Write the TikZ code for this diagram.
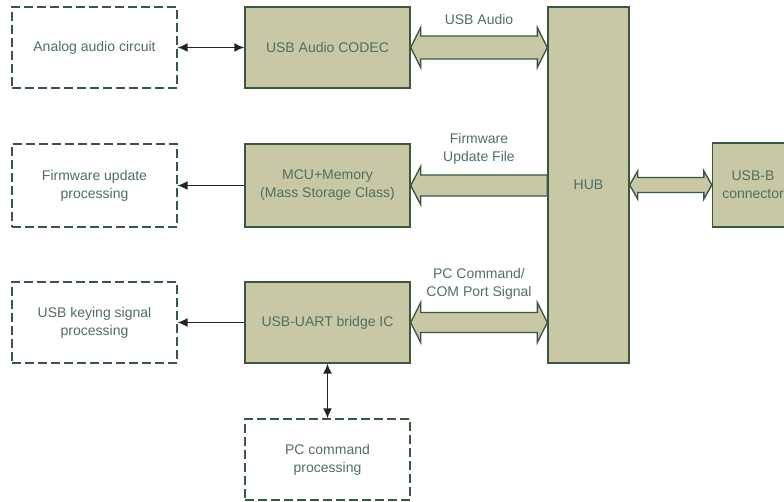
\documentclass[tikz,border=0pt]{standalone}
\usepackage{fontspec}
\setmainfont{Liberation Sans}
\usetikzlibrary{arrows.meta,calc}

\definecolor{blockFill}{RGB}{200,200,166}
\definecolor{blockLine}{RGB}{58,88,62}
\definecolor{labelText}{RGB}{82,110,98}
\definecolor{wireLine}{RGB}{35,35,35}

\tikzset{
  block/.style={draw=blockLine, line width=1.4pt, fill=blockFill, minimum width=165pt,
    minimum height=81pt, align=center, text=labelText, inner sep=0pt},
  extbox/.style={draw=blockLine, line width=1.3pt, dash pattern=on 9pt off 4pt, fill=white,
    minimum width=165pt, minimum height=81pt, align=center, text=labelText, inner sep=0pt},
  fatarrow/.style={draw=blockLine, line width=1.4pt, fill=blockFill, line join=miter},
  wire/.style={draw=wireLine, line width=1.5pt},
  buslabel/.style={text=labelText, align=center, inner sep=0pt},
}

% wide outlined arrows: #1 left end, #2 right end, shaft half width, head half width, head length
\newcommand{\fatboth}[5]{%
  \draw[fatarrow] let \p1=(#1), \p2=(#2) in
    (\x1,\y1) -- (\x1+#5pt,\y1+#4pt) -- (\x1+#5pt,\y1+#3pt) -- (\x2-#5pt,\y1+#3pt)
    -- (\x2-#5pt,\y1+#4pt) -- (\x2,\y1) -- (\x2-#5pt,\y1-#4pt) -- (\x2-#5pt,\y1-#3pt)
    -- (\x1+#5pt,\y1-#3pt) -- (\x1+#5pt,\y1-#4pt) -- cycle;}
\newcommand{\fatleft}[5]{%
  \draw[fatarrow] let \p1=(#1), \p2=(#2) in
    (\x1,\y1) -- (\x1+#5pt,\y1+#4pt) -- (\x1+#5pt,\y1+#3pt) -- (\x2,\y1+#3pt)
    -- (\x2,\y1-#3pt) -- (\x1+#5pt,\y1-#3pt) -- (\x1+#5pt,\y1-#4pt) -- cycle;}

\begin{document}
\begin{tikzpicture}[x=1pt, y=-1pt, >={Latex[length=10pt,width=9pt]},
  font=\fontsize{14}{18}\selectfont]
\useasboundingbox (0,0) rectangle (784,502);
\clip (0,0) rectangle (784,502);

% outside functions
\node[extbox] (analog) at (94.5,47.5) {Analog audio circuit};
\node[extbox, minimum height=83pt] (fwproc) at (94.5,185.5) {Firmware update\\processing};
\node[extbox] (keying) at (94.5,322.5) {USB keying signal\\processing};
\node[extbox] (pccmd) at (327.5,459.5) {PC command\\processing};

% devices
\node[block] (codec) at (327.5,47.5) {USB Audio CODEC};
\node[block, minimum height=83pt] (mcu) at (327.5,185.5) {MCU+Memory\\(Mass Storage Class)};
\node[block] (uart) at (327.5,322.5) {USB-UART bridge IC};
\node[block, minimum width=81pt, minimum height=356pt] (hub) at (588.5,185) {HUB};
\node[block, minimum width=81pt, minimum height=84pt] (usbb) at (753,185) {USB-B\\connector};

% bus arrows
\fatboth{codec.east}{$(codec.east -| hub.west)$}{11.5}{20}{10}
\fatleft{mcu.east}{$(mcu.east -| hub.west)$}{10.5}{19}{10}
\fatboth{uart.east}{$(uart.east -| hub.west)$}{10}{20}{10}
\fatboth{$(usbb.west -| hub.east)$}{usbb.west}{7.5}{14}{8}

\node[buslabel] (lblaudio) at (479,20) {USB Audio};
\node[buslabel] (lblfw) at (479,149) {Firmware\\Update File};
\node[buslabel] (lblcom) at (479,284) {PC Command/\\COM Port Signal};

% local signals
\draw[wire, <->] (analog) -- (codec);
\draw[wire, ->] (mcu) -- (fwproc);
\draw[wire, ->] (uart) -- (keying);
\draw[wire, <->] (uart) -- (pccmd);
\end{tikzpicture}
\end{document}
